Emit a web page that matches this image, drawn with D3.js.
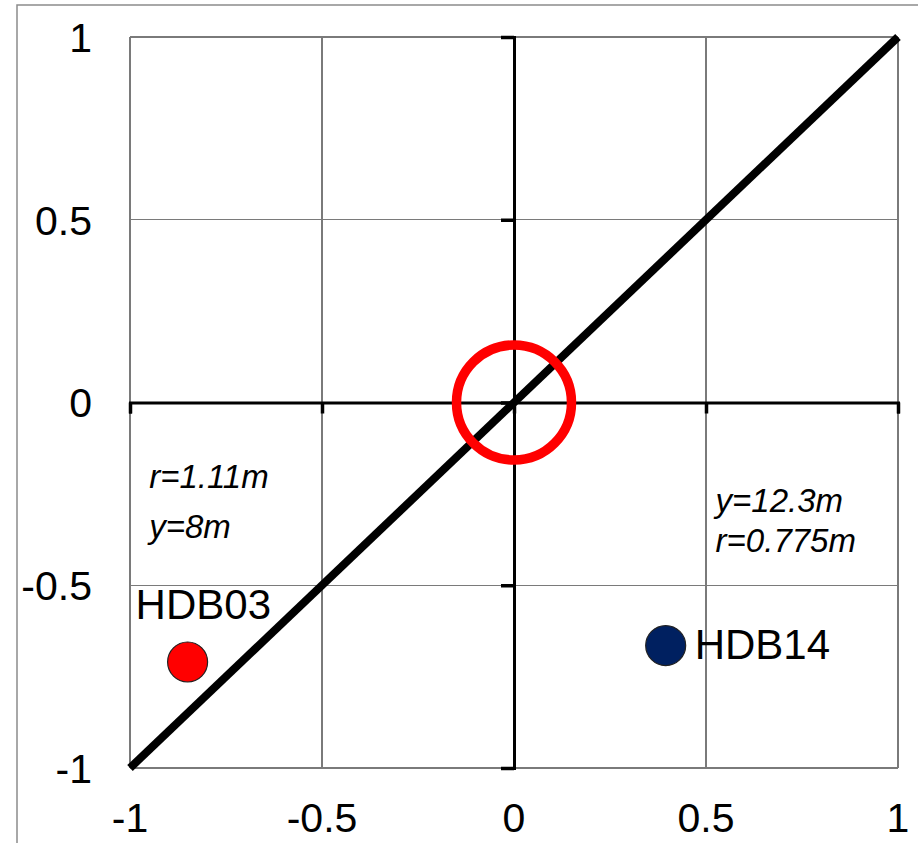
<!DOCTYPE html>
<html>
<head>
<meta charset="utf-8">
<script src="https://cdn.jsdelivr.net/npm/d3@7"></script>
<style>
  body { margin: 0; background: #fff; }
  svg { display: block; font-family: "Liberation Sans", Arial, sans-serif; }
</style>
</head>
<body>
<svg id="chart" width="918" height="843"></svg>
<script>
const ticks = [-1, -0.5, 0, 0.5, 1]
const tickLabels = ['-1', '-0.5', '0', '0.5', '1']
const wells = ['HDB03', 'HDB14']
const wellX = [-0.85, 0.395]
const wellY = [-0.71, -0.665]
const wellColors = ['#ff0000', '#002060']
const noteText = [['r=1.11m', 'y=8m'], ['y=12.3m', 'r=0.775m']]
const noteX = [-0.95, 0.525]
const noteY = [[-0.235, -0.37], [-0.3, -0.41]]

const svg = d3.select('#chart')
const margin = {left: 130, right: 20, top: 37, bottom: 75}
const width = 918, height = 843

const x = d3.scaleLinear().domain([-1, 1]).range([margin.left, width - margin.right])
const y = d3.scaleLinear().domain([-1, 1]).range([height - margin.bottom, margin.top])

// outer frame
svg.append('rect')
  .attr('x', 17).attr('y', 5)
  .attr('width', 1000).attr('height', 1000)
  .attr('fill', 'none').attr('stroke', '#8c8c8c').attr('stroke-width', 1.5)

// grid
const grid = svg.append('g').attr('shape-rendering', 'crispEdges')
grid.selectAll('.gx').data(ticks).join('line')
  .attr('class', 'gx')
  .attr('x1', d => x(d)).attr('x2', d => x(d))
  .attr('y1', y(-1)).attr('y2', y(1))
  .attr('stroke', '#7a7a7a').attr('stroke-width', 1.2)
grid.selectAll('.gy').data(ticks).join('line')
  .attr('class', 'gy')
  .attr('y1', d => y(d)).attr('y2', d => y(d))
  .attr('x1', x(-1)).attr('x2', x(1))
  .attr('stroke', '#7a7a7a').attr('stroke-width', 1.2)

// axes through zero
const axisX = d3.axisBottom(x).tickValues(ticks).tickSize(11).tickFormat('')
const axisY = d3.axisLeft(y).tickValues(ticks).tickSize(13).tickFormat('')
svg.append('g').attr('transform', `translate(0, ${y(0)})`).call(axisX)
  .call(g => g.select('.domain').attr('stroke', '#000').attr('stroke-width', 3))
  .call(g => g.selectAll('.tick line').attr('stroke', '#000').attr('stroke-width', 3.5))
svg.append('g').attr('transform', `translate(${x(0)}, 0)`).call(axisY)
  .call(g => g.select('.domain').attr('stroke', '#000').attr('stroke-width', 3))
  .call(g => g.selectAll('.tick line').attr('stroke', '#000').attr('stroke-width', 3.5))

// tick labels
svg.append('g').selectAll('text').data(ticks).join('text')
  .attr('x', 92).attr('y', d => y(d))
  .attr('dy', '0.36em')
  .attr('text-anchor', 'end')
  .attr('font-size', 41)
  .text((d, i) => tickLabels[i])
svg.append('g').selectAll('text').data(ticks).join('text')
  .attr('x', d => x(d)).attr('y', 832)
  .attr('text-anchor', 'middle')
  .attr('font-size', 41)
  .text((d, i) => tickLabels[i])

// 1:1 line
svg.append('line')
  .attr('x1', x(-1)).attr('y1', y(-1))
  .attr('x2', x(1)).attr('y2', y(1))
  .attr('stroke', '#000').attr('stroke-width', 8)

// red ring at origin
svg.append('circle')
  .attr('cx', x(0)).attr('cy', y(0)).attr('r', 57.5)
  .attr('fill', 'none').attr('stroke', '#ff0000').attr('stroke-width', 9.5)

// points
svg.append('g').selectAll('circle').data(wells).join('circle')
  .attr('cx', (d, i) => x(wellX[i])).attr('cy', (d, i) => y(wellY[i]))
  .attr('r', 20)
  .attr('fill', (d, i) => wellColors[i])
  .attr('stroke', '#222').attr('stroke-width', 1.2)

// point labels
svg.append('text')
  .attr('x', x(wellX[0]) - 52).attr('y', y(wellY[0]) - 43)
  .attr('font-size', 42).text(wells[0])
svg.append('text')
  .attr('x', x(wellX[1]) + 29).attr('y', y(wellY[1]) + 13)
  .attr('font-size', 42).text(wells[1])

// annotations
noteText.forEach((lines, k) => {
  lines.forEach((line, i) => {
    svg.append('text')
      .attr('x', x(noteX[k])).attr('y', y(noteY[k][i]))
      .attr('font-size', 33).attr('font-style', 'italic')
      .text(line)
  })
})
</script>
</body>
</html>
